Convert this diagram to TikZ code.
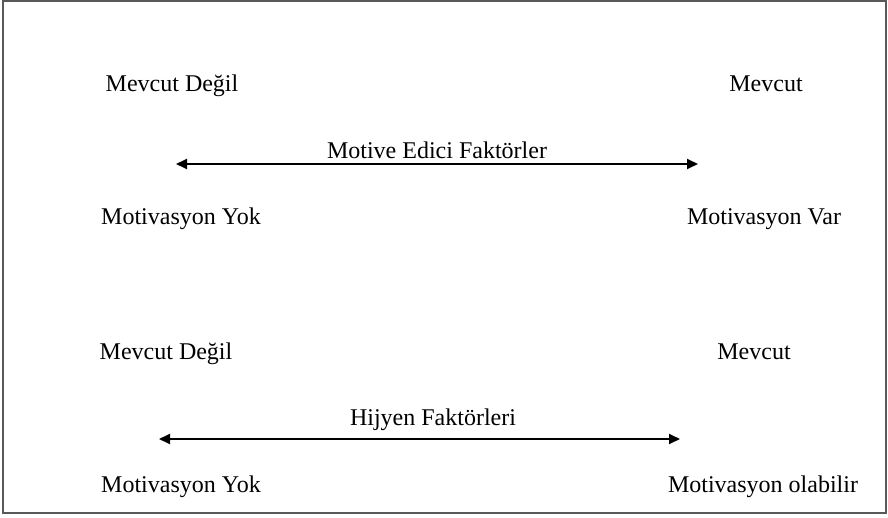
\documentclass[tikz,border=0pt]{standalone}
\usepackage{fontspec}
\setmainfont{Liberation Serif}
\usetikzlibrary{arrows.meta,positioning}
\definecolor{frgray}{rgb}{0.35,0.35,0.35}

\begin{document}
\begin{tikzpicture}[
  x=0.5pt, y=-0.5pt,
  font=\fontsize{12}{14}\selectfont,
  lbl/.style={anchor=base, inner sep=0pt},
  both/.style={{Triangle[length=5.5pt,width=5pt]}-{Triangle[length=5.5pt,width=5pt]}, line width=0.9pt}
]
\useasboundingbox (0,0) rectangle (888,518);
\draw[frgray, line width=0.6pt] (3,1) rectangle (886,513);

% motive edici faktorler
\node[lbl] (yokA)  at (172, 92)  {Mevcut Değil};
\node[lbl] (varA)  at (766, 92)  {Mevcut};
\coordinate (mL) at (176,164);
\coordinate (mR) at (698,164);
\draw[both] (mL) -- (mR);
\node[lbl] (motA) at (437,159) {Motive Edici Faktörler};
\node[lbl] (noA)  at (181,225) {Motivasyon Yok};
\node[lbl] (yesA) at (764,225) {Motivasyon Var};

% hijyen faktorleri
\node[lbl] (yokB)  at (166,359) {Mevcut Değil};
\node[lbl] (varB)  at (754,359) {Mevcut};
\coordinate (hL) at (159,439);
\coordinate (hR) at (680,439);
\draw[both] (hL) -- (hR);
\node[lbl] (hijB) at (433,425) {Hijyen Faktörleri};
\node[lbl] (noB)  at (181,492) {Motivasyon Yok};
\node[lbl] (yesB) at (763,492) {Motivasyon olabilir};
\end{tikzpicture}
\end{document}
